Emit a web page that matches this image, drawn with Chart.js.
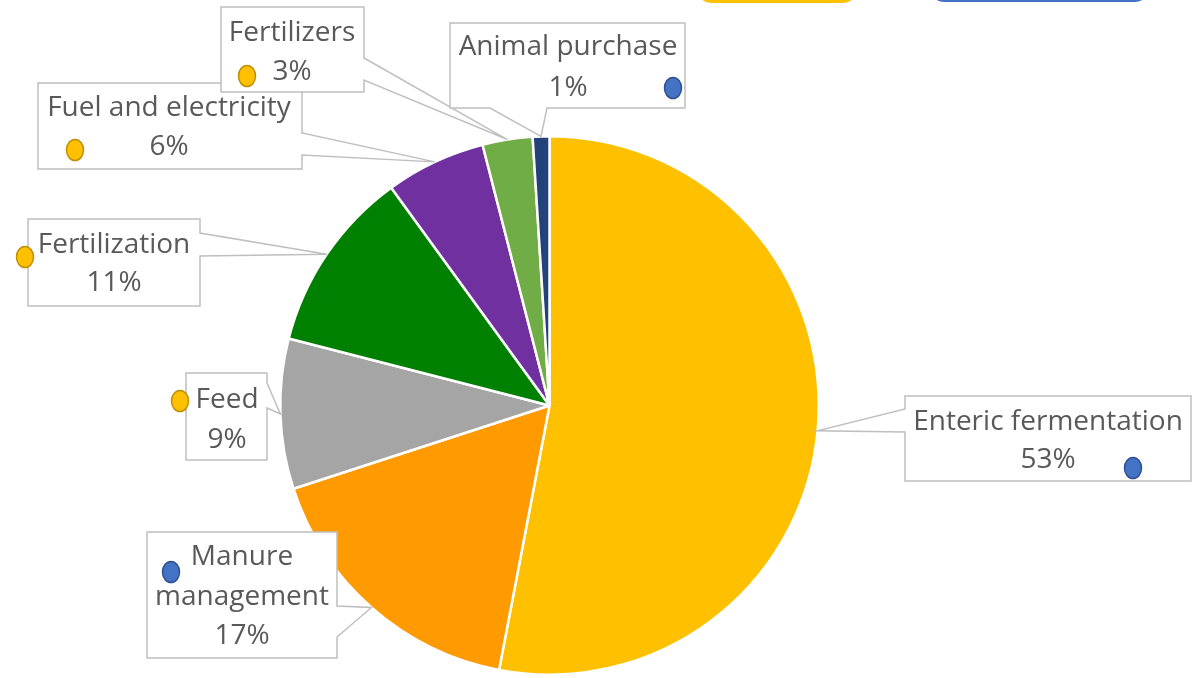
<!DOCTYPE html>
<html>
<head>
<meta charset="utf-8">
<script src="https://cdn.jsdelivr.net/npm/chart.js@4"></script>
<style>
  html, body { margin: 0; padding: 0; background: #ffffff; overflow: hidden; }
  #wrap { position: relative; width: 1201px; height: 678px; }
  #emissionsPie { position: absolute; left: 0; top: 0; }
  /* shapes sticking in from above the chart */
  .tab { position: absolute; box-sizing: border-box; }
  .tab.yellow { left: 697px; top: -40px; width: 160px; height: 43px; background: #FFC000; border-radius: 14px; }
  .tab.blue { left: 930px; top: -40px; width: 219px; height: 42px; background: #ffffff; border: 2px solid #4472C4; border-radius: 14px; }
</style>
</head>
<body>
<div id="wrap">
  <canvas id="emissionsPie" width="1201" height="678"></canvas>
  <div class="tab yellow"></div>
  <div class="tab blue"></div>
</div>
<script>
// emission sources, clockwise from 12 o'clock
const categories = ['Enteric fermentation', 'Manure management', 'Feed', 'Fertilization', 'Fuel and electricity', 'Fertilizers', 'Animal purchase'];
const shares = [53, 17, 9, 11, 6, 3, 1];
const sliceColors = ['#FFC000', '#FF9A00', '#A5A5A5', '#008000', '#7030A0', '#70AD47', '#23427A'];

// label boxes: rect, side the pointer leaves from, pointer base along that side,
// text lines (label / value), little marker dot
const callouts = [
  { box: [905, 396, 1191, 481], side: 'left',   base: [409, 432], cx: 1048, lines: [422, 460], dot: [1133, 468, 'blue'] },
  { box: [147, 532, 337, 658],  side: 'right',  base: [606, 637], cx: 242,  lines: [557, 597, 636], dot: [171, 572, 'blue'] },
  { box: [186, 373, 267, 460],  side: 'right',  base: [383, 408], cx: 227,  lines: [400, 440], dot: [180, 401, 'yellow'] },
  { box: [28, 219, 200, 306],   side: 'right',  base: [233, 256], cx: 114,  lines: [245, 283], dot: [25, 257, 'yellow'] },
  { box: [38, 83, 302, 169],    side: 'right',  base: [133, 155], cx: 169,  lines: [108, 147], dot: [75, 150, 'yellow'] },
  { box: [221, 7, 364, 92],     side: 'right',  base: [58, 80],   cx: 292,  lines: [33, 72],  dot: [247, 76, 'yellow'] },
  { box: [450, 23, 685, 108],   side: 'bottom', base: [490, 547], cx: 568,  lines: [47, 88],  dot: [673, 88, 'blue'] }
];

const DOT = {
  yellow: { fill: '#FFC000', stroke: '#BF9000' },
  blue: { fill: '#4472C4', stroke: '#2F528F' }
};

function calloutPath(ctx, c, tip) {
  const [x0, y0, x1, y1] = c.box;
  const [a, b] = c.base;
  ctx.beginPath();
  ctx.moveTo(x0, y0);
  ctx.lineTo(x1, y0);
  if (c.side === 'right') {
    ctx.lineTo(x1, a); ctx.lineTo(tip.x, tip.y); ctx.lineTo(x1, b);
  }
  ctx.lineTo(x1, y1);
  if (c.side === 'bottom') {
    ctx.lineTo(b, y1); ctx.lineTo(tip.x, tip.y); ctx.lineTo(a, y1);
  }
  ctx.lineTo(x0, y1);
  if (c.side === 'left') {
    ctx.lineTo(x0, b); ctx.lineTo(tip.x, tip.y); ctx.lineTo(x0, a);
  }
  ctx.closePath();
}

// pointer tip sits on the rim at the middle of each slice
const calloutPlugin = {
  id: 'callouts',
  afterDatasetsDraw(chart) {
    const ctx = chart.ctx;
    const meta = chart.getDatasetMeta(0);
    const total = shares.reduce((s, v) => s + v, 0);
    ctx.save();
    meta.data.forEach((arc, i) => {
      const c = callouts[i];
      if (!c) return;
      const p = arc.getProps(['x', 'y', 'startAngle', 'endAngle', 'outerRadius'], true);
      const mid = (p.startAngle + p.endAngle) / 2;
      const tip = { x: p.x + Math.cos(mid) * p.outerRadius, y: p.y + Math.sin(mid) * p.outerRadius };

      calloutPath(ctx, c, tip);
      ctx.fillStyle = '#ffffff';
      ctx.fill();
      ctx.lineWidth = 1.5;
      ctx.strokeStyle = '#BFBFBF';
      ctx.lineJoin = 'miter';
      ctx.stroke();

      // label may wrap onto two lines (manure)
      const pct = Math.round(shares[i] / total * 100) + '%';
      const words = c.lines.length === 3 ? categories[i].split(' ') : [categories[i]];
      const texts = words.concat([pct]);
      ctx.fillStyle = '#595959';
      ctx.font = '28px "Open Sans"';
      ctx.textAlign = 'center';
      ctx.textBaseline = 'middle';
      texts.forEach((t, k) => ctx.fillText(t, c.cx, c.lines[k]));

      const [dx, dy, kind] = c.dot;
      ctx.beginPath();
      ctx.ellipse(dx, dy, 8.5, 10.5, 0, 0, Math.PI * 2);
      ctx.fillStyle = DOT[kind].fill;
      ctx.fill();
      ctx.lineWidth = 1.5;
      ctx.strokeStyle = DOT[kind].stroke;
      ctx.stroke();
    });
    ctx.restore();
  }
};

const ctx = document.getElementById('emissionsPie').getContext('2d');
window.pieChart = new Chart(ctx, {
  type: 'pie',
  data: {
    labels: categories,
    datasets: [{
      data: shares,
      backgroundColor: sliceColors,
      borderColor: '#ffffff',
      borderWidth: 2.5
    }]
  },
  options: {
    responsive: false,
    animation: false,
    devicePixelRatio: 1,
    layout: { padding: { left: 279, right: 381, top: 135, bottom: 2 } },
    plugins: {
      legend: { display: false },
      tooltip: { enabled: false }
    }
  },
  plugins: [calloutPlugin]
});
</script>
</body>
</html>
